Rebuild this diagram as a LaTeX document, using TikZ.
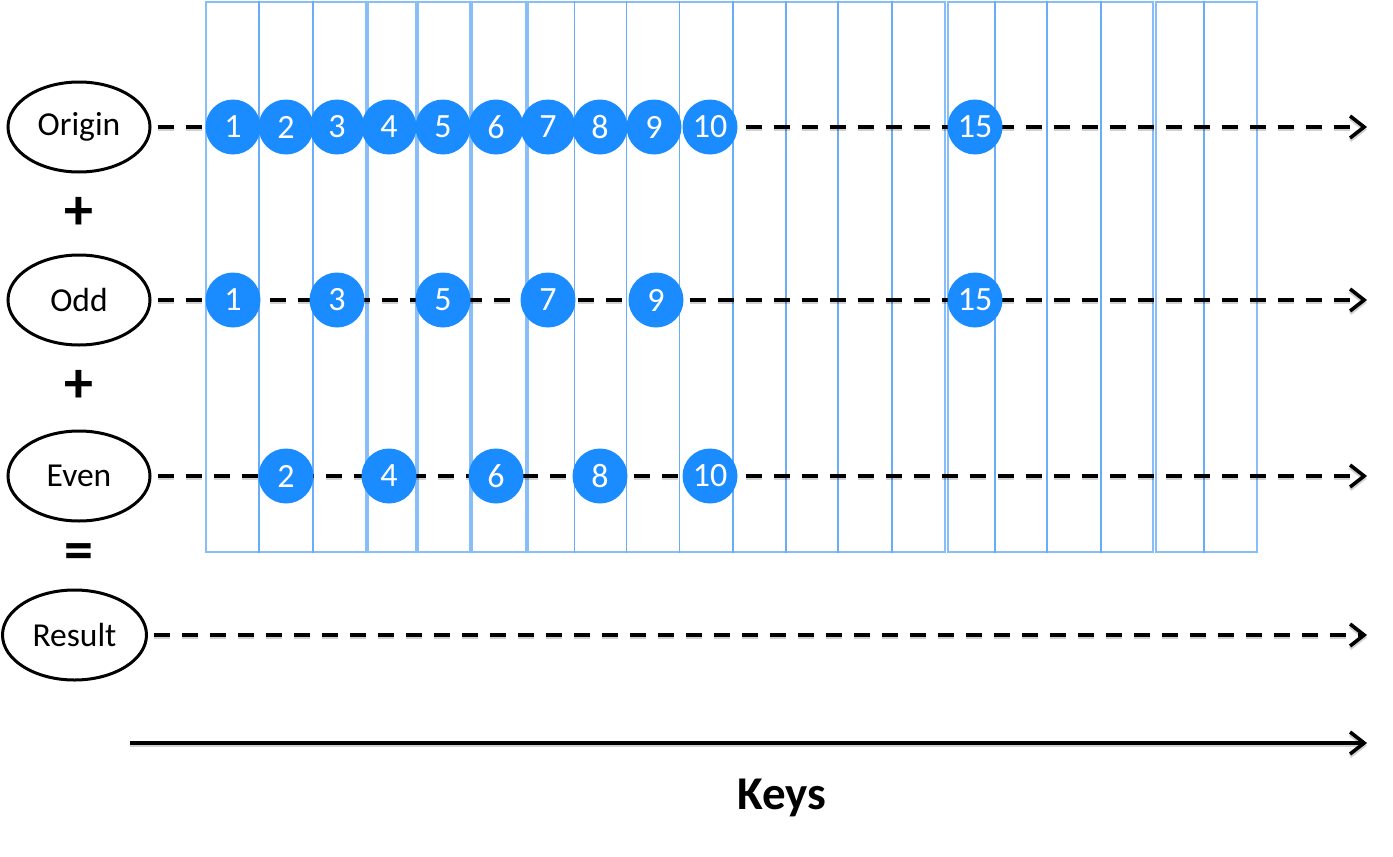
\documentclass[tikz,border=0pt]{standalone}
\usepackage{fontspec}
\setmainfont{Carlito}
\usetikzlibrary{arrows.meta,shapes.geometric}
\definecolor{keyblue}{RGB}{26,140,255}
\definecolor{colline}{RGB}{95,168,245}
\begin{document}
\begin{tikzpicture}[x=1pt,y=-1pt,
  lbl/.style={ellipse,draw,line width=3pt,minimum width=142pt,minimum height=90pt,inner sep=0pt,font=\fontsize{33.5}{38}\selectfont},
  keydot/.style={circle,fill=keyblue,text=white,minimum size=55pt,inner sep=0pt,font=\fontsize{34}{38}\selectfont},
  colbox/.style={draw=colline,draw opacity=0.75,line width=1.3pt},
  dline/.style={line width=3.6pt,dash pattern=on 16pt off 12pt,shorten <=6pt,-{Straight Barb[length=14pt,width=22pt,line width=3.6pt]}},
  sline/.style={line width=3.6pt,-{Straight Barb[length=14pt,width=22pt,line width=3.6pt]}},
  shade/.style={draw=black,draw opacity=0.18,transform canvas={yshift=-2.5pt}},
  op/.style={font=\bfseries\fontsize{58}{60}\selectfont,inner sep=0pt}
]
\useasboundingbox (0,0) rectangle (1393,857);
% column strips
\foreach \a/\b in {206/259,259/313,313/366,368/416,418/470,472/526,528/574.5,574.5/626.7,626.7/679.5,679.5/733,733/786,786/838,838/892,892/945,948/995,995/1047,1047/1101,1101/1153,1156/1204,1204/1257}
  \draw[colbox] (\a,2) rectangle (\b,552);
% row labels
\node[lbl] (orig) at (79,127) {Origin};
\node[lbl] (odd) at (79,300) {Odd};
\node[lbl] (even) at (79,476) {Even};
\node[lbl,minimum width=144pt] (res) at (74.5,635) {Result};
\node[op] (plusA) at (79,213) {+};
\node[op] (plusB) at (79,386) {+};
\node[op] (eq) at (79,557) {=};
% arrow end points
\coordinate (origE) at (1367,127);
\coordinate (oddE) at (1367,300);
\coordinate (evenE) at (1367,476);
\coordinate (resE) at (1367,635);
\coordinate (axS) at (130,743);
\coordinate (axE) at (1367,743);
% shadows
\draw[dline,shade] (orig.east) -- (origE);
\draw[dline,shade] (odd.east) -- (oddE);
\draw[dline,shade] (even.east) -- (evenE);
\draw[dline,shade] (res.east) -- (resE);
\draw[sline,shade] (axS) -- (axE);
% lines
\draw[dline] (orig.east) -- (origE);
\draw[dline] (odd.east) -- (oddE);
\draw[dline] (even.east) -- (evenE);
\draw[dline] (res.east) -- (resE);
\draw[sline] (axS) -- (axE);
% key dots
\foreach \n/\x in {1/233,2/286,3/337,4/389,5/443,6/496,7/548,8/600,9/654,10/710,15/975}
  \node[keydot] (o\n) at (\x,127) {\n};
\foreach \n/\x in {1/233,3/337,5/443,7/548,9/656,15/975}
  \node[keydot] (d\n) at (\x,300) {\n};
\foreach \n/\x in {2/286,4/389,6/496,8/600,10/710}
  \node[keydot] (e\n) at (\x,476) {\n};
\node[font=\bfseries\fontsize{47}{50}\selectfont,anchor=base,inner sep=0pt] (keys) at (782,809) {Keys};
\end{tikzpicture}
\end{document}
